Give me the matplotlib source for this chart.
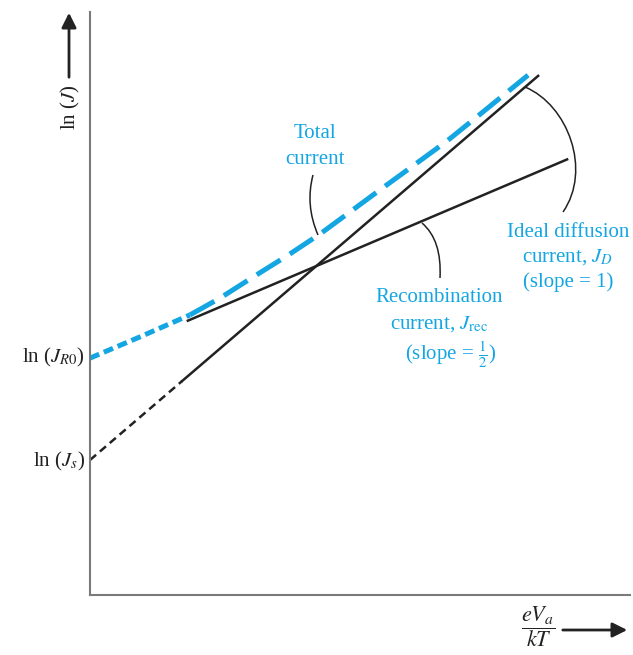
import matplotlib.pyplot as plt
from matplotlib.path import Path
from matplotlib.patches import PathPatch, FancyArrowPatch

plt.rcParams['font.family'] = 'serif'
plt.rcParams['font.serif'] = ['Liberation Serif', 'DejaVu Serif']
plt.rcParams['mathtext.fontset'] = 'stix'

W, H = 633, 655
BLUE = '#14a6e2'
INK = '#222222'

# values in (eVa/kT, ln J) units
diff_dash_x = [0.0, 2.2]
diff_dash_y = [3.75, 5.95]
diff_solid_x = [2.2, 10.67]
diff_solid_y = [5.95, 14.42]

rec_x = [2.33, 11.36]
rec_y = [7.62, 12.1]

total_low_x = [0.0, 1.19, 2.38]
total_low_y = [6.58, 7.17, 7.78]
total_high_x = [2.38, 3.10, 3.88, 4.69, 5.48, 6.12, 6.90, 7.69, 8.50, 9.21, 10.43]
total_high_y = [7.78, 8.25, 8.83, 9.42, 10.03, 10.58, 11.25, 11.92, 12.61, 13.28, 14.44]


def px(x, y):
    # top-left pixel -> figure fraction
    return (x / W, 1 - y / H)


fig = plt.figure(figsize=(6.33, 6.55), dpi=100)
ax = fig.add_axes([90 / W, 1 - 595 / H, 540 / W, 583 / H])
ax.set_xlim(0, 540 / 42)
ax.set_ylim(0, 583 / 36)

ax.plot(diff_dash_x, diff_dash_y, color=INK, lw=1.8, dashes=(3.2, 2))
ax.plot(diff_solid_x, diff_solid_y, color=INK, lw=1.8)
ax.plot(rec_x, rec_y, color=INK, lw=1.8)
ax.plot(total_low_x, total_low_y, color=BLUE, lw=3.6, dashes=(2, 1))
ax.plot(total_high_x, total_high_y, color=BLUE, lw=3.6, dashes=(5.6, 2.2))

for s in ['top', 'right']:
    ax.spines[s].set_visible(False)
for s in ['left', 'bottom']:
    ax.spines[s].set_color('#7a7a7a')
    ax.spines[s].set_linewidth(1.5)
ax.set_xticks([])
ax.set_yticks([])

# axis labels and arrows
fig.text(*px(70, 107), r'ln ($J$)', rotation=90, ha='center', va='center',
         fontsize=15, color=INK)
fig.add_artist(FancyArrowPatch(px(69, 80), px(69, 10), transform=fig.transFigure,
                               arrowstyle='-|>', mutation_scale=22, lw=2, color=INK))
fig.text(*px(538, 627), r'$\dfrac{eV_a}{kT}$', ha='center', va='center',
         fontsize=16, color=INK)
fig.add_artist(FancyArrowPatch(px(560, 630), px(630, 630), transform=fig.transFigure,
                               arrowstyle='-|>', mutation_scale=22, lw=2, color=INK))

fig.text(*px(85, 357), r'ln ($J_{R\mathrm{0}}$)', ha='right', va='center',
         fontsize=15, color=INK)
fig.text(*px(85, 461), r'ln ($J_s$)', ha='right', va='center',
         fontsize=15, color=INK)

# blue labels
fig.text(*px(315, 133), 'Total', ha='center', va='center', fontsize=15, color=BLUE)
fig.text(*px(315, 159), 'current', ha='center', va='center', fontsize=15, color=BLUE)

fig.text(*px(568, 232), 'Ideal diffusion', ha='center', va='center', fontsize=15, color=BLUE)
fig.text(*px(568, 257), r'current, $J_D$', ha='center', va='center', fontsize=15, color=BLUE)
fig.text(*px(568, 282), '(slope = 1)', ha='center', va='center', fontsize=15, color=BLUE)

fig.text(*px(439, 297), 'Recombination', ha='center', va='center', fontsize=15, color=BLUE)
fig.text(*px(439, 324), r'current, $J_{\mathrm{rec}}$', ha='center', va='center',
         fontsize=15, color=BLUE)
fig.text(*px(451, 355), r'(slope = $\frac{1}{2}$)', ha='center', va='center',
         fontsize=15, color=BLUE)

# leader lines
leaders = [
    [(313, 175), (305, 205), (318, 235)],
    [(422, 223), (442, 240), (440, 278)],
]
for pts in leaders:
    verts = [px(*p) for p in pts]
    path = Path(verts, [Path.MOVETO, Path.CURVE3, Path.CURVE3])
    fig.add_artist(PathPatch(path, transform=fig.transFigure, fill=False,
                             lw=1.1, edgecolor=INK))

verts = [px(*p) for p in [(525, 87), (568, 105), (592, 170), (563, 212)]]
path = Path(verts, [Path.MOVETO, Path.CURVE4, Path.CURVE4, Path.CURVE4])
fig.add_artist(PathPatch(path, transform=fig.transFigure, fill=False,
                         lw=1.1, edgecolor=INK))

fig.savefig('out.png', dpi=100)
